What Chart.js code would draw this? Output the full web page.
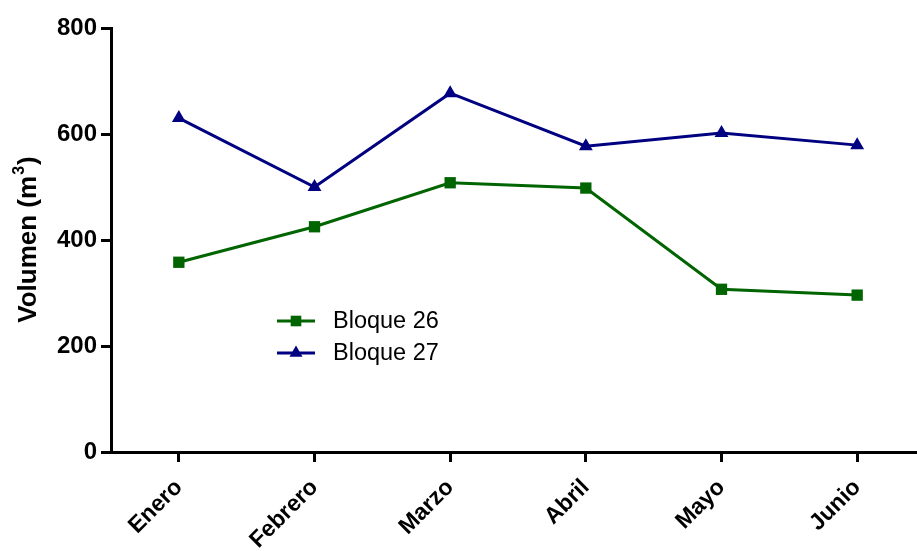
<!DOCTYPE html>
<html>
<head>
<meta charset="utf-8">
<script src="https://cdn.jsdelivr.net/npm/chart.js@4/dist/chart.umd.min.js"></script>
<style>
  html, body { margin: 0; padding: 0; background: #fff; overflow: hidden; width: 917px; height: 551px; }
  canvas { display: block; }
</style>
</head>
<body>
<canvas id="c" width="933" height="551"></canvas>
<script>
// Monthly volumes per block (m³)
const months = ['Enero', 'Febrero', 'Marzo', 'Abril', 'Mayo', 'Junio'];
const bloque26 = [358, 425, 508, 498, 307, 296];
const bloque27 = [630, 500, 677, 577, 602, 579];
const seriesNames = ['Bloque 26', 'Bloque 27'];
const yTicks = [0, 200, 400, 600, 800];
const yTitle = ['Volumen (m', '3', ')'];

const GREEN = '#006400';
const NAVY = '#000080';
const FONT = '"Liberation Sans", Arial, Helvetica, sans-serif';

// Legend drawn inside the plot area
const insideLegend = {
  id: 'insideLegend',
  afterDraw(chart) {
    const ctx = chart.ctx;
    ctx.save();
    chart.data.datasets.forEach((ds, i) => {
      const y = 321 + i * 32;
      ctx.strokeStyle = ds.borderColor;
      ctx.lineWidth = 3;
      ctx.beginPath();
      ctx.moveTo(277, y);
      ctx.lineTo(315, y);
      ctx.stroke();
      ctx.fillStyle = ds.borderColor;
      Chart.helpers.drawPoint(ctx, { pointStyle: ds.pointStyle, radius: ds.pointRadius - 0.5, borderWidth: 0 }, 296, y);
      ctx.fillStyle = '#000';
      ctx.font = '23.5px ' + FONT;
      ctx.textBaseline = 'middle';
      ctx.textAlign = 'left';
      ctx.fillText(ds.label, 333, y + 1);
    });
    ctx.restore();
  }
};

// Vertical axis title with a raised superscript
const yAxisTitle = {
  id: 'yAxisTitle',
  afterDraw(chart) {
    const ctx = chart.ctx;
    const area = chart.chartArea;
    const big = 'bold 26px ' + FONT;
    const small = 'bold 16px ' + FONT;
    ctx.save();
    ctx.font = big;
    const w0 = ctx.measureText(yTitle[0]).width;
    const w2 = ctx.measureText(yTitle[2]).width;
    ctx.font = small;
    const w1 = ctx.measureText(yTitle[1]).width + 1;
    const total = w0 + w1 + w2;
    ctx.translate(29, (area.top + area.bottom) / 2);
    ctx.rotate(-Math.PI / 2);
    ctx.fillStyle = '#000';
    ctx.textBaseline = 'middle';
    ctx.textAlign = 'left';
    let x = -total / 2;
    ctx.font = big;
    ctx.fillText(yTitle[0], x, 0);
    x += w0 + 1;
    ctx.font = small;
    ctx.fillText(yTitle[1], x, -9);
    x += w1;
    ctx.font = big;
    ctx.fillText(yTitle[2], x, 0);
    ctx.restore();
  }
};

new Chart(document.getElementById('c'), {
  type: 'line',
  data: {
    labels: months,
    datasets: [
      {
        label: seriesNames[0], data: bloque26,
        borderColor: GREEN, backgroundColor: GREEN,
        borderWidth: 3, pointStyle: 'rect', pointRadius: 8, pointBorderWidth: 0,
        tension: 0
      },
      {
        label: seriesNames[1], data: bloque27,
        borderColor: NAVY, backgroundColor: NAVY,
        borderWidth: 3, pointStyle: 'triangle', pointRadius: 8, pointBorderWidth: 0,
        tension: 0
      }
    ]
  },
  options: {
    responsive: false,
    animation: false,
    layout: { padding: { top: 28, right: 0, left: 0, bottom: 0 } },
    plugins: { legend: { display: false }, tooltip: { enabled: false } },
    scales: {
      x: {
        offset: true,
        grid: { drawOnChartArea: false, tickLength: 10, color: '#000', lineWidth: 3, offset: false },
        border: { color: '#000', width: 3 },
        ticks: {
          color: '#000', minRotation: 45, maxRotation: 45, padding: 12,
          font: { family: FONT, size: 23, weight: 'bold' }
        },
        afterFit(s) { s.height = 99; }
      },
      y: {
        min: 0, max: 800,
        afterBuildTicks(s) { s.ticks = yTicks.map(v => ({ value: v })); },
        grid: { drawOnChartArea: false, tickLength: 10, color: '#000', lineWidth: 3 },
        border: { color: '#000', width: 3 },
        ticks: { color: '#000', padding: 4, font: { family: FONT, size: 24, weight: 'bold' } },
        afterFit(s) { s.width = 111; }
      }
    }
  },
  plugins: [insideLegend, yAxisTitle]
});
</script>
</body>
</html>
